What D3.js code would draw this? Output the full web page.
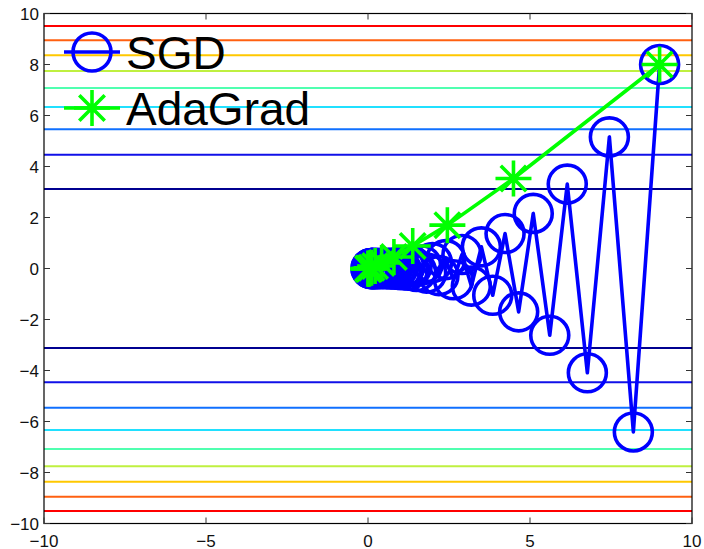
<!DOCTYPE html>
<html>
<head>
<meta charset="utf-8">
<script src="https://cdn.jsdelivr.net/npm/d3@7"></script>
<style>
  html,body{margin:0;padding:0;background:#fff;}
  svg{display:block;font-family:"Liberation Sans",Arial,Helvetica,sans-serif;}
</style>
</head>
<body>
<svg id="chart" width="704" height="549"></svg>
<script>
// contour levels (y positions of the level lines, they are nearly flat)
const contourY = [-9.51, -8.95, -8.36, -7.75, -7.08, -6.33, -5.46, -4.46, -3.12,
                  3.12, 4.46, 5.46, 6.33, 7.08, 7.75, 8.36, 8.95, 9.51];
const contourColors = ['#ff0000','#ff6010','#ffc800','#bff040','#50ffb0','#20e0ff','#1070ff','#1010e8','#000090',
                       '#000090','#1010e8','#1070ff','#20e0ff','#50ffb0','#bff040','#ffc800','#ff6010','#ff0000'];

// SGD iterates
const sgdX = [9, 8.19, 7.45, 6.77, 6.15, 5.61, 5.10, 4.65, 4.23, 3.85, 3.50, 3.19, 2.90, 2.64, 2.40,
              2.19, 1.99, 1.81, 1.65, 1.50, 1.36, 1.24, 1.13, 1.03, 0.93, 0.85, 0.77, 0.70, 0.64, 0.58,
              0.53, 0.48, 0.44, 0.40, 0.36, 0.33, 0.30, 0.27, 0.25, 0.23, 0.21, 0.19, 0.17, 0.15, 0.14,
              0.13, 0.12, 0.11, 0.10, 0.09];
const sgdY = [8, -6.41, 5.16, -4.09, 3.31, -2.62, 2.16, -1.70, 1.37, -1.05, 0.85, -0.69, 0.55, -0.44, 0.35,
              -0.28, 0.23, -0.18, 0.14, -0.12, 0.09, -0.07, 0.06, -0.05, 0.04, -0.03, 0.02, -0.02, 0.01, -0.01,
              0.01, 0, 0, 0, 0, 0, 0, 0, 0, 0, 0, 0, 0, 0, 0,
              0, 0, 0, 0, 0];

// AdaGrad iterates
const adaX = [9, 4.49, 2.45, 1.38, 0.80, 0.42, 0.22, 0.11, 0.05, 0.02, 0.01, 0];
const adaY = [8, 3.53, 1.70, 0.88, 0.45, 0.22, 0.10, 0.03, 0.0, -0.02, -0.01, 0];

const xTicks = [-10, -5, 0, 5, 10];
const yTicks = [-10, -8, -6, -4, -2, 0, 2, 4, 6, 8, 10];

const svg = d3.select('#chart');
const L = 44, R = 692, T = 13.5, B = 523.5;

const x = d3.scaleLinear().domain([-10, 10]).range([L, R]);
const y = d3.scaleLinear().domain([-10, 10]).range([B, T]);

svg.append('defs').append('clipPath').attr('id','plotClip')
  .append('rect').attr('x',L).attr('y',T).attr('width',R-L).attr('height',B-T);

// contour lines
svg.append('g').attr('clip-path','url(#plotClip)')
  .selectAll('line').data(contourY).join('line')
  .attr('x1', x(-10)).attr('x2', x(10))
  .attr('y1', d=>y(d)).attr('y2', d=>y(d))
  .attr('stroke', (d,i)=>contourColors[i]).attr('stroke-width', 2);

const sgd = sgdX.map((v,i)=>[v, sgdY[i]]);
const ada = adaX.map((v,i)=>[v, adaY[i]]);
const line = d3.line().x(d=>x(d[0])).y(d=>y(d[1]));

const blue = '#0000ff', green = '#00ff00';
const circleR = 19, starR = 18, lw = 3.6;

// SGD path + circle markers
svg.append('path').datum(sgd).attr('d', line)
  .attr('fill','none').attr('stroke',blue).attr('stroke-width',lw).attr('stroke-linejoin','round');
svg.append('g').selectAll('circle').data(sgd).join('circle')
  .attr('cx', d=>x(d[0])).attr('cy', d=>y(d[1])).attr('r', circleR)
  .attr('fill','none').attr('stroke',blue).attr('stroke-width',lw);

function starPath(r){
  const d = r*Math.SQRT1_2;
  return `M${-r},0L${r},0M0,${-r}L0,${r}M${-d},${-d}L${d},${d}M${-d},${d}L${d},${-d}`;
}

// AdaGrad path + star markers
svg.append('path').datum(ada).attr('d', line)
  .attr('fill','none').attr('stroke',green).attr('stroke-width',lw).attr('stroke-linejoin','round');
svg.append('g').selectAll('path').data(ada).join('path')
  .attr('transform', d=>`translate(${x(d[0])},${y(d[1])})`)
  .attr('d', starPath(starR))
  .attr('fill','none').attr('stroke',green).attr('stroke-width',lw);

// axes box
svg.append('rect').attr('x',L).attr('y',T).attr('width',R-L).attr('height',B-T)
  .attr('fill','none').attr('stroke','#000').attr('stroke-width',1.2);

// ticks inside on all four sides
const tk = 6;
const tg = svg.append('g').attr('stroke','#333').attr('stroke-width',1);
xTicks.forEach(t=>{
  tg.append('line').attr('x1',x(t)).attr('x2',x(t)).attr('y1',B).attr('y2',B-tk);
  tg.append('line').attr('x1',x(t)).attr('x2',x(t)).attr('y1',T).attr('y2',T+tk);
});
yTicks.forEach(t=>{
  tg.append('line').attr('y1',y(t)).attr('y2',y(t)).attr('x1',L).attr('x2',L+tk);
  tg.append('line').attr('y1',y(t)).attr('y2',y(t)).attr('x1',R).attr('x2',R-tk);
});

const fmt = d3.format('');
svg.append('g').selectAll('text').data(xTicks).join('text')
  .attr('x', d=>x(d)).attr('y', B+23).attr('text-anchor','middle')
  .attr('font-size',17).attr('fill','#111').text(d=>fmt(d));
svg.append('g').selectAll('text').data(yTicks).join('text')
  .attr('x', L-5).attr('y', d=>y(d)+6).attr('text-anchor','end')
  .attr('font-size',17).attr('fill','#111').text(d=>fmt(d));

// legend (no box)
const lg = svg.append('g');
lg.append('line').attr('x1',64).attr('x2',120).attr('y1',52).attr('y2',52)
  .attr('stroke',blue).attr('stroke-width',lw);
lg.append('circle').attr('cx',92).attr('cy',52).attr('r',circleR)
  .attr('fill','none').attr('stroke',blue).attr('stroke-width',lw);
lg.append('text').attr('x',126).attr('y',69).attr('font-size',46).text('SGD');
lg.append('line').attr('x1',64).attr('x2',120).attr('y1',108).attr('y2',108)
  .attr('stroke',green).attr('stroke-width',lw);
lg.append('path').attr('transform','translate(92,108)').attr('d',starPath(starR))
  .attr('fill','none').attr('stroke',green).attr('stroke-width',lw);
lg.append('text').attr('x',126).attr('y',125).attr('font-size',46).text('AdaGrad');
</script>
</body>
</html>
